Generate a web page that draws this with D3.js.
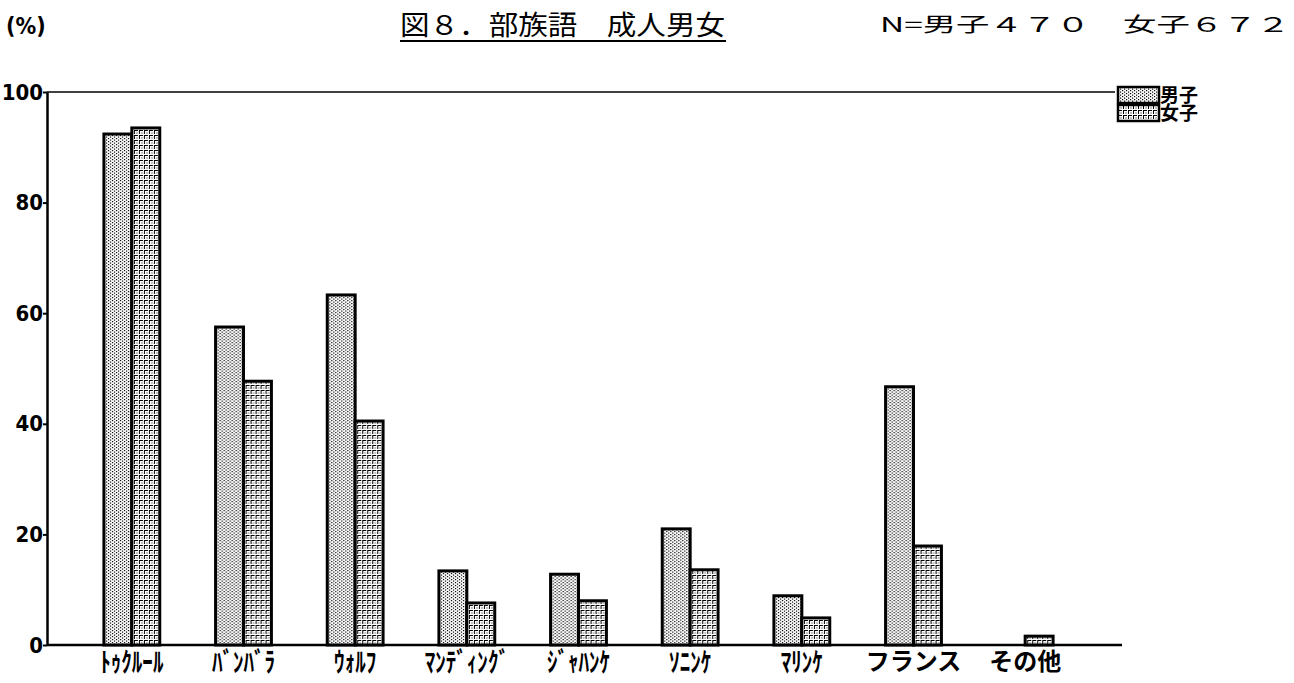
<!DOCTYPE html>
<html>
<head>
<meta charset="utf-8">
<script src="https://cdn.jsdelivr.net/npm/d3@7"></script>
<style>
  body { margin: 0; background: #fff; }
  svg { display: block; }
</style>
</head>
<body>
<div id="chart"></div>
<script>
// data
const categories = ["ﾄｩｸﾙｰﾙ", "ﾊﾞﾝﾊﾞﾗ", "ｳｫﾙﾌ", "ﾏﾝﾃﾞｨﾝｸﾞ", "ｼﾞｬﾊﾝｹ", "ｿﾆﾝｹ", "ﾏﾘﾝｹ", "フランス", "その他"];
const series = ["男子", "女子"];
const male = [92.4, 57.5, 63.3, 13.4, 12.8, 21.0, 8.9, 46.7, 0];
const female = [93.5, 47.7, 40.5, 7.6, 8.0, 13.6, 4.9, 17.9, 1.6];
const yTicks = [0, 20, 40, 60, 80, 100];

const W = 1294, H = 683;
const x0 = 47, yBase = 645, yTop = 92;

const svg = d3.select("#chart").append("svg")
    .attr("width", W)
    .attr("height", H);

// fill patterns (stipple for men, grid for women)
const defs = svg.append("defs");
const pm = defs.append("pattern")
    .attr("id", "pm").attr("patternUnits", "userSpaceOnUse")
    .attr("width", 4).attr("height", 3);
pm.append("rect").attr("width", 4).attr("height", 3).attr("fill", "#fff");
pm.append("rect").attr("x", 0).attr("y", 0).attr("width", 1.2).attr("height", 1.2).attr("fill", "#000");
pm.append("rect").attr("x", 2).attr("y", 1.5).attr("width", 1.2).attr("height", 1.2).attr("fill", "#000");

const pf = defs.append("pattern")
    .attr("id", "pf").attr("patternUnits", "userSpaceOnUse")
    .attr("width", 5).attr("height", 5);
pf.append("rect").attr("width", 5).attr("height", 5).attr("fill", "#fff");
pf.append("rect").attr("x", 0).attr("y", 0).attr("width", 4).attr("height", 1).attr("fill", "#000");
pf.append("rect").attr("x", 0).attr("y", 0).attr("width", 1).attr("height", 4).attr("fill", "#000");
pf.append("rect").attr("x", 2.5).attr("y", 2.5).attr("width", 1).attr("height", 1).attr("fill", "#000");

const fills = {"男子": "url(#pm)", "女子": "url(#pf)"};

// scales
const x = d3.scaleBand()
    .domain(categories)
    .range([76, 1081])
    .paddingInner(0.5)
    .paddingOuter(0.25);

const xs = d3.scaleBand()
    .domain(series)
    .range([0, x.bandwidth()]);

const y = d3.scaleLinear()
    .domain([0, 100])
    .range([yBase, yTop]);

// header texts
svg.append("text")
    .attr("x", 6).attr("y", 34)
    .style("font-family", "DejaVu Sans Condensed")
    .style("font-weight", "bold")
    .style("font-size", "23px")
    .text("(%)");

svg.append("text")
    .attr("x", 400).attr("y", 35)
    .attr("textLength", 325).attr("lengthAdjust", "spacingAndGlyphs")
    .style("font-family", "Noto Sans CJK JP")
    .style("font-size", "27px")
    .text("図８．部族語　成人男女");

svg.append("line")
    .attr("x1", 400).attr("x2", 726)
    .attr("y1", 41).attr("y2", 41)
    .attr("stroke", "#000").attr("stroke-width", 2);

svg.append("text")
    .attr("x", 880).attr("y", 32)
    .attr("textLength", 410).attr("lengthAdjust", "spacingAndGlyphs")
    .style("font-family", "Noto Sans CJK JP")
    .style("font-size", "20px")
    .text("N=男子４７０　女子６７２");

// 100% reference line
svg.append("line")
    .attr("x1", x0).attr("x2", 1115)
    .attr("y1", y(100)).attr("y2", y(100))
    .attr("stroke", "#000").attr("stroke-width", 1.5);

// y axis
const yAxis = svg.append("g")
    .attr("transform", `translate(${x0},0)`)
    .call(d3.axisLeft(y).tickValues(yTicks).tickSize(4).tickSizeOuter(0));
yAxis.select(".domain").attr("stroke-width", 2.5);
yAxis.selectAll(".tick line").attr("stroke-width", 2);
yAxis.selectAll(".tick text")
    .attr("x", -4)
    .style("font-family", "DejaVu Sans Condensed")
    .style("font-weight", "bold")
    .style("font-size", "22px")
    .attr("fill", "#000");

// x axis
const halfWidth = /[\uFF61-\uFF9F]/;
const xAxis = svg.append("g")
    .attr("transform", `translate(0,${yBase})`)
    .call(d3.axisBottom(x).tickSize(0).tickSizeOuter(0));
xAxis.select(".domain").attr("d", `M${x0},0H1122`).attr("stroke-width", 2.5);
xAxis.selectAll(".tick text")
    .attr("y", 8)
    .style("font-family", "Noto Sans CJK JP")
    .style("font-weight", "bold")
    .style("font-size", d => halfWidth.test(d) ? "27px" : "24px")
    .attr("transform", d => halfWidth.test(d) ? "scale(0.78,1)" : null)
    .attr("fill", "#000");

// bars
const rows = categories.map((c, i) => ({cat: c, vals: [
    {s: "男子", v: male[i]}, {s: "女子", v: female[i]}
]}));

svg.append("g").selectAll("g")
    .data(rows)
    .enter().append("g")
    .attr("transform", d => `translate(${x(d.cat)},0)`)
    .selectAll("rect")
    .data(d => d.vals.filter(e => e.v > 0))
    .enter().append("rect")
    .attr("x", d => xs(d.s))
    .attr("y", d => y(d.v))
    .attr("width", xs.bandwidth())
    .attr("height", d => yBase - y(d.v))
    .attr("fill", d => fills[d.s])
    .attr("stroke", "#000")
    .attr("stroke-width", 3);

// legend
const legend = svg.selectAll(".legend")
    .data(series)
    .enter().append("g")
    .attr("class", "legend")
    .attr("transform", (d, i) => `translate(1118, ${87 + i * 18})`);

legend.append("rect")
    .attr("width", 41).attr("height", 16)
    .attr("fill", d => fills[d])
    .attr("stroke", "#000").attr("stroke-width", 2.5);

legend.append("text")
    .attr("x", 42).attr("y", 15)
    .style("font-family", "Noto Sans CJK JP")
    .style("font-size", "19px")
    .style("font-weight", "bold")
    .text(d => d);
</script>
</body>
</html>
